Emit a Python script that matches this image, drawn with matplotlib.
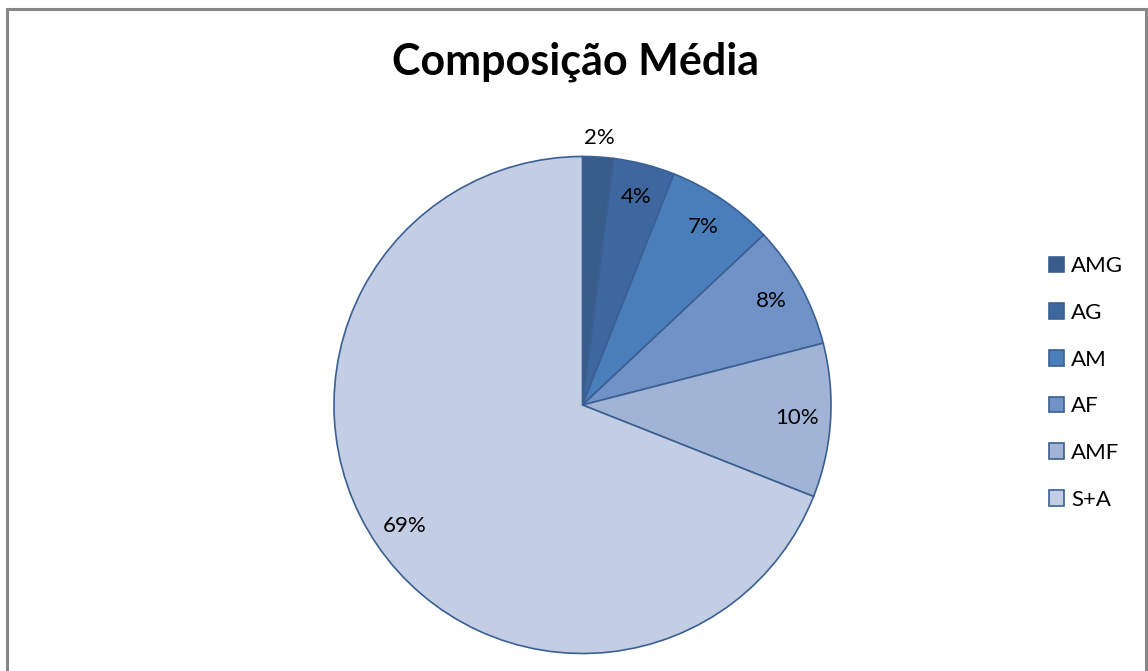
import matplotlib
matplotlib.use('Agg')
import matplotlib.pyplot as plt
from matplotlib.patches import Rectangle
import numpy as np

plt.rcParams['font.family'] = ['Lato', 'DejaVu Sans']

categories = ['AMG', 'AG', 'AM', 'AF', 'AMF', 'S+A']
shares = [2, 4, 7, 8, 10, 69]
colors = ['#385d8a', '#3e67a0', '#4a7ebb', '#7092c6', '#a2b4d6', '#c3cde3']

W, H = 1148, 671
fig = plt.figure(figsize=(W / 100, H / 100), dpi=100)

# outer chart frame, bottom edge runs off the canvas
fig.patches.append(Rectangle((6.5 / W, -0.05), 1139 / W, (H - 9.5) / H + 0.05,
                             transform=fig.transFigure, fill=False,
                             edgecolor='#878787', linewidth=2.2))

# pie axes: centre (582.5, 405), radius 248.5 px
r = 248.5
cx, cy = 582.5, 405
ax = fig.add_axes([(cx - r) / W, (H - cy - r) / H, 2 * r / W, 2 * r / H])

wedges, texts, autotexts = ax.pie(
    shares, colors=colors, startangle=90, counterclock=False, radius=1,
    autopct='%d%%', pctdistance=0.865,
    wedgeprops={'edgecolor': '#3a6093', 'linewidth': 1.2},
    textprops={'fontsize': 16, 'color': 'black'})
ax.set_xlim(-1, 1)
ax.set_ylim(-1, 1)
ax.axis('off')

# smallest slice gets its label just outside the rim
a = np.deg2rad(90 - shares[0] / 100 * 360 / 2)
autotexts[0].set_position((1.075 * np.cos(a), 1.075 * np.sin(a)))

fig.text(576 / W, 1 - 62 / H, 'Composição Média', ha='center', va='center',
         fontsize=31, fontweight='bold')

fig.legend(wedges, categories, loc='center left',
           bbox_to_anchor=(1040 / W, 1 - 383 / H), frameon=False,
           fontsize=16, handlelength=0.7, handleheight=0.7,
           handletextpad=0.3, labelspacing=1.2, borderaxespad=0)

fig.savefig('out.png', dpi=100)
